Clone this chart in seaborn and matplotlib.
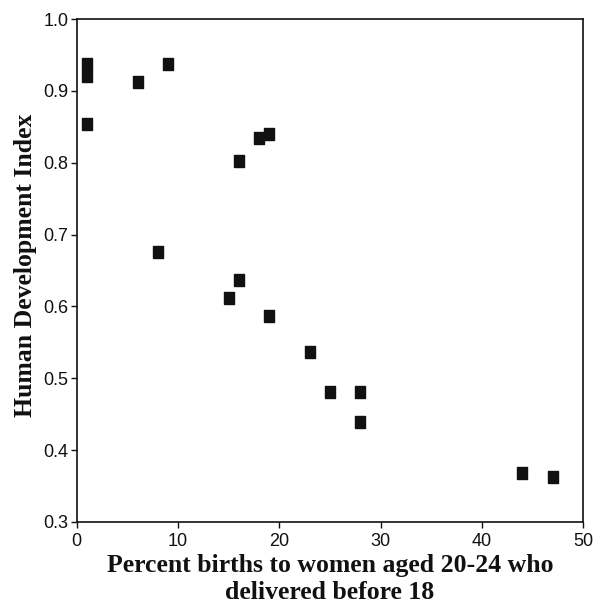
import pandas as pd
import matplotlib
matplotlib.use("Agg")
import matplotlib.pyplot as plt
import seaborn as sns

# Percent births to women aged 20-24 who delivered before 18, and HDI
pct_births = [1, 1, 1, 6, 9, 16, 18, 19, 8, 16, 15, 19, 23, 25, 28, 28, 44, 47]
hdi = [0.937, 0.921, 0.854, 0.913, 0.937, 0.802, 0.835, 0.840,
       0.676, 0.637, 0.611, 0.587, 0.537, 0.481, 0.481, 0.439, 0.368, 0.362]

x_ticks = [0, 10, 20, 30, 40, 50]
y_ticks = [0.3, 0.4, 0.5, 0.6, 0.7, 0.8, 0.9, 1.0]

df = pd.DataFrame({"pct": pct_births, "hdi": hdi})

sns.set_style("white")
plt.rcParams["font.family"] = ["Liberation Sans", "DejaVu Sans"]

fig = plt.figure(figsize=(5.95, 6.14), dpi=100)
ax = fig.add_axes([0.129, 0.150, 0.851, 0.819])

# slightly tall, blotchy square marker like the printed figure
tall_square = [(-0.8, -1), (0.8, -1), (0.8, 1), (-0.8, 1), (-0.8, -1)]
sns.scatterplot(data=df, x="pct", y="hdi", ax=ax, marker=tall_square, s=66,
                color="#111111", edgecolor="#111111", linewidth=1.0)

ax.set_xlim(0, 50)
ax.set_ylim(0.3, 1.0)
ax.set_xticks(x_ticks)
ax.set_yticks(y_ticks)
ax.set_xticklabels([str(t) for t in x_ticks])
ax.set_yticklabels([f"{t:.1f}" for t in y_ticks])
ax.tick_params(axis="both", direction="out", length=4, width=1,
               labelsize=13, colors="#111111", pad=2, left=True, bottom=True)
ax.tick_params(axis="x", pad=4)

for side in ["left", "right", "top", "bottom"]:
    ax.spines[side].set_color("#111111")
    ax.spines[side].set_linewidth(1.2)

label_font = dict(family=["Liberation Serif", "DejaVu Serif"], fontweight="bold",
                  fontsize=18.5, color="#111111")
ax.set_xlabel("Percent births to women aged 20-24 who\ndelivered before 18",
              labelpad=3, linespacing=1.2, **label_font)
ax.set_ylabel("Human Development Index", labelpad=4, **label_font)
ax.yaxis.set_label_coords(-0.079, 0.51)

plt.savefig("out.png", dpi=100)
plt.close()
